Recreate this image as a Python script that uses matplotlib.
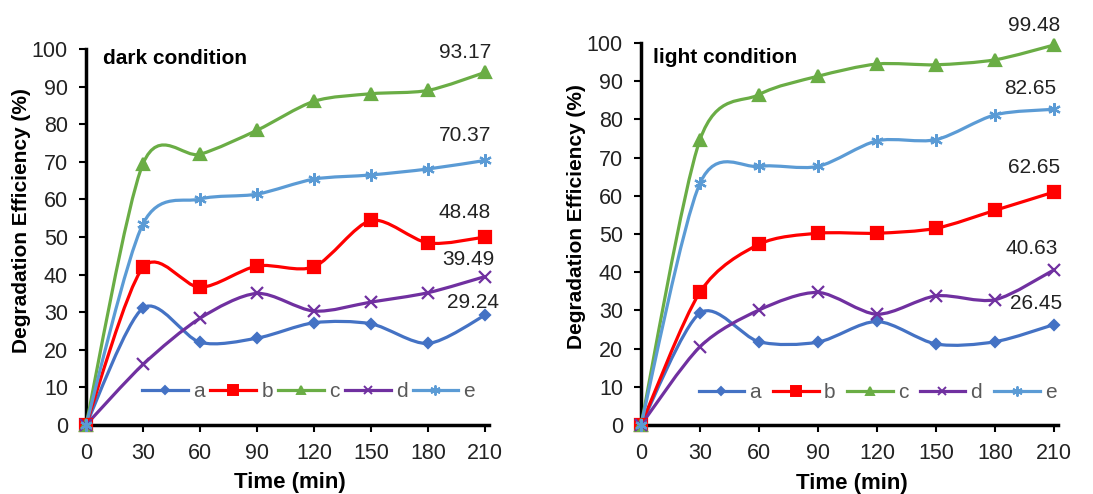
import numpy as np
import matplotlib
matplotlib.use('Agg')
import matplotlib.pyplot as plt
from matplotlib.path import Path
from matplotlib.patches import PathPatch
from matplotlib.lines import Line2D

plt.rcParams['font.family'] = ['Liberation Sans', 'DejaVu Sans']

# time points (min)
time = [0, 30, 60, 90, 120, 150, 180, 210]
series_names = ['a', 'b', 'c', 'd', 'e']

# dark condition
dark_a = [0, 31.1, 22.0, 23.1, 27.2, 26.9, 21.7, 29.24]
dark_b = [0, 41.9, 36.6, 42.3, 42.1, 54.4, 48.4, 50.0]
dark_c = [0, 69.5, 72.0, 78.4, 86.1, 88.1, 89.0, 93.8]
dark_d = [0, 16.1, 28.4, 35.0, 30.3, 32.7, 35.2, 39.49]
dark_e = [0, 53.5, 60.1, 61.4, 65.4, 66.5, 68.1, 70.37]
dark_labels = ['29.24', '48.48', '93.17', '39.49', '70.37']

# light condition
light_a = [0, 29.3, 21.8, 21.7, 27.1, 21.2, 21.8, 26.3]
light_b = [0, 34.8, 47.3, 50.2, 50.2, 51.5, 56.2, 61.0]
light_c = [0, 74.7, 86.5, 91.3, 94.5, 94.3, 95.6, 99.48]
light_d = [0, 20.5, 30.1, 34.7, 29.0, 33.8, 32.8, 40.63]
light_e = [0, 63.3, 67.7, 67.7, 74.4, 74.7, 81.2, 82.65]
light_labels = ['26.45', '62.65', '99.48', '40.63', '82.65']

colors = ['#4472C4', '#FF0000', '#6AAD45', '#7030A0', '#5B9BD5']
markers = ['D', 's', '^', 'x', (6, 2, 0)]
msizes = [5, 9, 8, 8, 9]

W, H = 1093, 494
fig = plt.figure(figsize=(W / 100, H / 100), dpi=100)


def smooth_path(x, y, k=7.0):
    # excel-like smoothed line: cubic bezier segments through the points
    pts = np.column_stack([x, y]).astype(float)
    n = len(pts)
    verts = [pts[0]]
    codes = [Path.MOVETO]
    for i in range(n - 1):
        p0 = pts[i - 1] if i > 0 else pts[i]
        p1 = pts[i]
        p2 = pts[i + 1]
        p3 = pts[i + 2] if i + 2 < n else pts[i + 1]
        c1 = p1 + (p2 - p0) / k
        c2 = p2 - (p3 - p1) / k
        verts += [c1, c2, p2]
        codes += [Path.CURVE4] * 3
    return Path(verts, codes)


def draw_panel(rect, data, labels, label_pos, title, title_xy, leg_anchor, colspace):
    ax = fig.add_axes(rect)
    for i, y in enumerate(data):
        ax.add_patch(PathPatch(smooth_path(time, y), fill=False,
                               edgecolor=colors[i], lw=2.3, clip_on=False, zorder=2))
        ax.plot(time, y, ls='none', marker=markers[i], ms=msizes[i],
                color=colors[i], mec=colors[i], mew=1.6, clip_on=False, zorder=3)
    for txt, (lx, ly) in zip(labels, label_pos):
        ax.text(lx, ly, txt, ha='right', va='center', fontsize=15, color='#222222')

    ax.set_xlim(0, 212)
    ax.set_ylim(0, 100)
    ax.set_xticks(time)
    ax.set_yticks(range(0, 101, 10))
    for s in ['top', 'right']:
        ax.spines[s].set_visible(False)
    for s in ['left', 'bottom']:
        ax.spines[s].set_linewidth(2.5)
        ax.spines[s].set_zorder(1)
    ax.tick_params(axis='both', direction='out', length=5, width=1.5,
                   labelsize=15.5, labelcolor='#222222')
    ax.tick_params(axis='x', pad=8)
    ax.tick_params(axis='y', pad=8)

    # y label centred ~64 px left of the axis line
    ax.set_ylabel('Degradation Efficiency (%)', fontsize=15, fontweight='bold')
    ax.yaxis.label.set_va('center')
    ax.yaxis.set_label_coords(-64 / (rect[2] * W), 0.545)
    ax.set_xlabel('Time (min)', fontsize=16, fontweight='bold')
    ax.xaxis.label.set_va('center')
    ax.xaxis.set_label_coords(0.506, -0.152)

    ax.text(title_xy[0], title_xy[1], title, transform=ax.transAxes,
            fontsize=15, fontweight='bold', va='center', ha='left')

    handles = [Line2D([], [], color=colors[i], marker=markers[i],
                      ms=msizes[i] * 0.8, mew=1.4, lw=2.3)
               for i in range(len(series_names))]
    ax.legend(handles, series_names, loc='center left', bbox_to_anchor=leg_anchor,
              ncol=5, frameon=False, fontsize=15, handlelength=2.2,
              handletextpad=0.25, columnspacing=colspace, labelcolor='#595959',
              borderaxespad=0, borderpad=0)
    return ax


draw_panel([86 / W, 69 / H, 403 / W, 376 / H],
           [dark_a, dark_b, dark_c, dark_d, dark_e], dark_labels,
           [(217, 32.7), (213, 56.4), (213, 99.2), (215, 44.1), (213, 76.9)],
           'dark condition', (0.042, 0.976), (0.14, 0.088), 0.25)

draw_panel([641 / W, 69 / H, 417 / W, 382 / H],
           [light_a, light_b, light_c, light_d, light_e], light_labels,
           [(214, 31.7), (213, 67.5), (213, 104.7), (212, 46.3), (211, 88.2)],
           'light condition', (0.029, 0.963), (0.138, 0.084), 0.55)

fig.savefig('out.png', dpi=100)
